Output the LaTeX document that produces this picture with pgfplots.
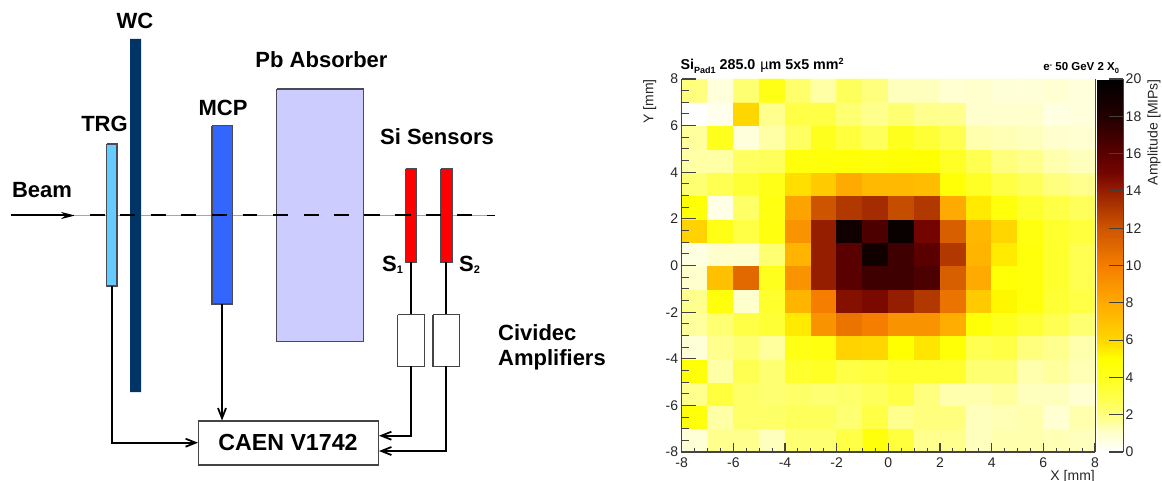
\documentclass[border=0pt]{standalone}
\usepackage{pgfplots}
\pgfplotsset{compat=1.18}
\usepackage{fontspec}
\setmainfont{Liberation Sans}
\usetikzlibrary{arrows.meta}
\definecolor{axgray}{HTML}{444444}
\definecolor{edge}{HTML}{4A4A55}
\newcommand{\lab}[1]{\fontsize{22}{24}\selectfont\bfseries #1}
\begin{document}
\begin{tikzpicture}[x=1pt,y=1pt]
\useasboundingbox (0,0) rectangle (1162,481);
\begin{axis}[at={(0pt,0pt)},anchor=south west,scale only axis,width=1162pt,height=481pt,
  xmin=0,xmax=1162,ymin=0,ymax=481,y dir=reverse,axis lines=none,clip=false,
  every axis plot/.append style={mark=none,line cap=butt,line join=miter}]
% beam
\addplot[line width=0.7pt,color=black!35] coordinates {(75,215)(490,215)};
\addplot[line width=2pt,-{Stealth[length=14pt,width=7pt]}] coordinates {(11,215.5)(75,215.5)};
% boxes
\addplot[fill={rgb,255:red,102;green,204;blue,255},draw=edge,line width=1.2pt] coordinates {(106.7,144)(117,144)(117,286)(106.7,286)(106.7,144)};
\addplot[fill={rgb,255:red,0;green,51;blue,102},draw=none] coordinates {(130,39)(141,39)(141,392)(130,392)(130,39)};
\addplot[fill={rgb,255:red,51;green,102;blue,255},draw=edge,line width=1.2pt] coordinates {(212,125.7)(232.7,125.7)(232.7,304)(212,304)(212,125.7)};
\addplot[fill={rgb,255:red,204;green,204;blue,255},draw=edge,line width=1.2pt] coordinates {(276.7,89)(363.3,89)(363.3,341.7)(276.7,341.7)(276.7,89)};
\addplot[fill=red,draw=edge,line width=1.2pt] coordinates {(405.7,169)(416.7,169)(416.7,262.3)(405.7,262.3)(405.7,169)};
\addplot[fill=red,draw=edge,line width=1.2pt] coordinates {(441,169)(452,169)(452,262.3)(441,262.3)(441,169)};
% dashes
\addplot[line width=1.1pt,black] coordinates {(90,215)(105,215)};
\addplot[line width=1.1pt,black] coordinates {(120,215)(135,215)};
\addplot[line width=1.1pt,black] coordinates {(150.5,215)(165.5,215)};
\addplot[line width=1.1pt,black] coordinates {(181,215)(196,215)};
\addplot[line width=1.1pt,black] coordinates {(212,215)(227,215)};
\addplot[line width=1.1pt,black] coordinates {(242.5,215)(257,215)};
\addplot[line width=1.1pt,black] coordinates {(273,215)(288,215)};
\addplot[line width=1.1pt,black] coordinates {(304,215)(319,215)};
\addplot[line width=1.1pt,black] coordinates {(334,215)(349,215)};
\addplot[line width=1.1pt,black] coordinates {(364,215)(380,215)};
\addplot[line width=1.1pt,black] coordinates {(395,215)(411,215)};
\addplot[line width=1.1pt,black] coordinates {(426,215)(441,215)};
\addplot[line width=1.1pt,black] coordinates {(457,215)(472,215)};
\addplot[line width=1.8pt,black] coordinates {(487,215.5)(495,215.5)};
% amps and CAEN
\addplot[fill=white,draw=axgray,line width=1.2pt] coordinates {(397.7,314.7)(424.3,314.7)(424.3,366.3)(397.7,366.3)(397.7,314.7)};
\addplot[fill=white,draw=axgray,line width=1.2pt] coordinates {(433,314.7)(459.7,314.7)(459.7,366.3)(433,366.3)(433,314.7)};
\addplot[fill=white,draw=axgray,line width=1.1pt] coordinates {(198.3,421)(378.3,421)(378.3,465)(198.3,465)(198.3,421)};
% wires
\addplot[line width=1.8pt] coordinates {(411,262.3)(411,314)};
\addplot[line width=1.8pt] coordinates {(446,262.3)(446,314)};
\addplot[line width=1.8pt,-{Straight Barb[length=10pt,width=8pt]}] coordinates {(411,366.3)(411,435.7)(379,435.7)};
\addplot[line width=1.8pt,-{Straight Barb[length=10pt,width=8pt]}] coordinates {(446,366.3)(446,451)(379,451)};
\addplot[line width=1.8pt,-{Straight Barb[length=10pt,width=8pt]}] coordinates {(222,304)(222,420.5)};
\addplot[line width=1.8pt,-{Straight Barb[length=10pt,width=8pt]}] coordinates {(112,286)(112,442.7)(198,442.7)};
% labels
\node at (axis cs:135,21) {\lab{WC}};
\node at (axis cs:104.5,124) {\lab{TRG}};
\node at (axis cs:223,108) {\lab{MCP}};
\node at (axis cs:321.5,60) {\lab{Pb Absorber}};
\node at (axis cs:437,137) {\lab{Si Sensors}};
\node at (axis cs:42,190) {\lab{Beam}};
\node[inner sep=0pt,anchor=west] at (axis cs:382,265) {\lab{S}{\fontsize{11}{12}\selectfont\bfseries\raisebox{-2pt}{1}}};
\node[inner sep=0pt,anchor=west] at (axis cs:459,265) {\lab{S}{\fontsize{11}{12}\selectfont\bfseries\raisebox{-2pt}{2}}};
\node[inner sep=0pt,anchor=west] at (axis cs:498,333) {\lab{Cividec}};
\node[inner sep=0pt,anchor=west] at (axis cs:498,360) {\lab{Amplifiers}};
\node at (axis cs:288,443) {\fontsize{23.2}{25}\selectfont\bfseries CAEN V1742};
\end{axis}
\begin{axis}[at={(681.7pt,29pt)},anchor=south west,scale only axis,width=413.3pt,height=373pt,
  xmin=-8,xmax=8,ymin=-8,ymax=8,clip=false,
  axis lines=left,axis line style={-,draw=none},
  xtick={-8,-6,...,8},ytick={-8,-6,...,8},
  tick align=inside,major tick length=0pt,
  xtick style={draw=none},ytick style={draw=none},
  tick label style={font=\fontsize{14}{16}\selectfont,text=black!85},
  xticklabel style={yshift=-2.5pt},
  /pgf/number format/assume math mode=true,
  enlargelimits=false,
  point meta min=0,point meta max=20,
  colormap={rootHot}{rgb255(0pt)=(255,255,255); rgb255(10pt)=(255,255,205); rgb255(20pt)=(255,255,125); rgb255(30pt)=(255,255,70); rgb255(40pt)=(255,255,30); rgb255(50pt)=(255,255,0); rgb255(60pt)=(255,214,0); rgb255(80pt)=(255,170,0); rgb255(100pt)=(245,125,0); rgb255(120pt)=(205,85,0); rgb255(140pt)=(150,30,0); rgb255(150pt)=(115,5,0); rgb255(160pt)=(90,0,0); rgb255(180pt)=(35,0,0); rgb255(200pt)=(0,0,0)},
  colorbar,
  colorbar/width=25.5pt,
  colorbar style={at={(1.0065,1)},anchor=north west,height=373pt,
    ytick={0,2,...,20},ytick pos=right,yticklabel pos=right,
    major tick length=0pt,
    axis line style={draw=none},
    yticklabel style={font=\fontsize{14}{16}\selectfont,text=black!85,xshift=-1pt},
    /pgf/number format/assume math mode=true,
    ylabel={},
  },
]
\addplot[matrix plot*,mesh/cols=16,mesh/ordering=x varies,point meta=explicit,shader=flat corner]
 table[row sep=\\,x index=0,y index=1,meta index=2,header=false] {
-7.5 -7.5 0.8\\ -6.5 -7.5 1.8\\ -5.5 -7.5 1.8\\ -4.5 -7.5 1.2\\ -3.5 -7.5 2.2\\ -2.5 -7.5 2.2\\ -1.5 -7.5 3.0\\ -0.5 -7.5 4.6\\ 0.5 -7.5 3.2\\ 1.5 -7.5 1.8\\ 2.5 -7.5 1.8\\ 3.5 -7.5 1.2\\ 4.5 -7.5 1.4\\ 5.5 -7.5 1.4\\ 6.5 -7.5 1.3\\ 7.5 -7.5 1.2\\
-7.5 -6.5 4.6\\ -6.5 -6.5 1.5\\ -5.5 -6.5 2.4\\ -4.5 -6.5 2.4\\ -3.5 -6.5 2.6\\ -2.5 -6.5 2.6\\ -1.5 -6.5 2.2\\ -0.5 -6.5 3.0\\ 0.5 -6.5 1.8\\ 1.5 -6.5 2.0\\ 2.5 -6.5 2.0\\ 3.5 -6.5 1.2\\ 4.5 -6.5 1.3\\ 5.5 -6.5 1.4\\ 6.5 -6.5 0.9\\ 7.5 -6.5 1.4\\
-7.5 -5.5 1.8\\ -6.5 -5.5 3.2\\ -5.5 -5.5 2.4\\ -4.5 -5.5 2.2\\ -3.5 -5.5 2.4\\ -2.5 -5.5 2.2\\ -1.5 -5.5 2.3\\ -0.5 -5.5 2.6\\ 0.5 -5.5 3.0\\ 1.5 -5.5 2.0\\ 2.5 -5.5 1.4\\ 3.5 -5.5 1.4\\ 4.5 -5.5 1.6\\ 5.5 -5.5 1.2\\ 6.5 -5.5 1.2\\ 7.5 -5.5 0.9\\
-7.5 -4.5 4.8\\ -6.5 -4.5 1.5\\ -5.5 -4.5 2.8\\ -4.5 -4.5 2.2\\ -3.5 -4.5 3.6\\ -2.5 -4.5 3.8\\ -1.5 -4.5 3.0\\ -0.5 -4.5 3.2\\ 0.5 -4.5 3.6\\ 1.5 -4.5 3.6\\ 2.5 -4.5 3.6\\ 3.5 -4.5 2.2\\ 4.5 -4.5 2.2\\ 5.5 -4.5 1.4\\ 6.5 -4.5 1.6\\ 7.5 -4.5 1.3\\
-7.5 -3.5 0.8\\ -6.5 -3.5 1.8\\ -5.5 -3.5 2.2\\ -4.5 -3.5 1.6\\ -3.5 -3.5 4.3\\ -2.5 -3.5 4.5\\ -1.5 -3.5 6.2\\ -0.5 -3.5 6.0\\ 0.5 -3.5 5.0\\ 1.5 -3.5 5.6\\ 2.5 -3.5 4.8\\ 3.5 -3.5 2.8\\ 4.5 -3.5 3.0\\ 5.5 -3.5 2.0\\ 6.5 -3.5 1.8\\ 7.5 -3.5 1.4\\
-7.5 -2.5 1.6\\ -6.5 -2.5 2.2\\ -5.5 -2.5 3.0\\ -4.5 -2.5 3.4\\ -3.5 -2.5 5.5\\ -2.5 -2.5 9.0\\ -1.5 -2.5 10.5\\ -0.5 -2.5 10.0\\ 0.5 -2.5 9.0\\ 1.5 -2.5 9.0\\ 2.5 -2.5 7.8\\ 3.5 -2.5 4.8\\ 4.5 -2.5 4.0\\ 5.5 -2.5 3.4\\ 6.5 -2.5 2.8\\ 7.5 -2.5 2.2\\
-7.5 -1.5 1.8\\ -6.5 -1.5 4.6\\ -5.5 -1.5 1.0\\ -4.5 -1.5 3.6\\ -3.5 -1.5 7.5\\ -2.5 -1.5 10.0\\ -1.5 -1.5 14.5\\ -0.5 -1.5 14.8\\ 0.5 -1.5 14.0\\ 1.5 -1.5 13.0\\ 2.5 -1.5 10.5\\ 3.5 -1.5 6.5\\ 4.5 -1.5 5.2\\ 5.5 -1.5 4.6\\ 6.5 -1.5 3.4\\ 7.5 -1.5 3.0\\
-7.5 -0.5 1.0\\ -6.5 -0.5 7.0\\ -5.5 -0.5 11.0\\ -4.5 -0.5 4.0\\ -3.5 -0.5 9.0\\ -2.5 -0.5 14.0\\ -1.5 -0.5 16.0\\ -0.5 -0.5 17.0\\ 0.5 -0.5 17.0\\ 1.5 -0.5 16.5\\ 2.5 -0.5 11.5\\ 3.5 -0.5 8.0\\ 4.5 -0.5 4.8\\ 5.5 -0.5 4.6\\ 6.5 -0.5 3.6\\ 7.5 -0.5 2.8\\
-7.5 0.5 0.6\\ -6.5 0.5 1.0\\ -5.5 0.5 1.0\\ -4.5 0.5 2.2\\ -3.5 0.5 7.5\\ -2.5 0.5 14.0\\ -1.5 0.5 16.0\\ -0.5 0.5 19.0\\ 0.5 0.5 17.0\\ 1.5 0.5 16.0\\ 2.5 0.5 13.0\\ 3.5 0.5 7.5\\ 4.5 0.5 5.5\\ 5.5 0.5 4.6\\ 6.5 0.5 3.6\\ 7.5 0.5 2.8\\
-7.5 1.5 6.2\\ -6.5 1.5 4.3\\ -5.5 1.5 3.0\\ -4.5 1.5 4.5\\ -3.5 1.5 9.0\\ -2.5 1.5 14.0\\ -1.5 1.5 19.0\\ -0.5 1.5 16.5\\ 0.5 1.5 19.5\\ 1.5 1.5 15.0\\ 2.5 1.5 11.5\\ 3.5 1.5 7.4\\ 4.5 1.5 6.0\\ 5.5 1.5 4.5\\ 6.5 1.5 3.6\\ 7.5 1.5 3.2\\
-7.5 2.5 4.8\\ -6.5 2.5 0.5\\ -5.5 2.5 2.4\\ -4.5 2.5 4.4\\ -3.5 2.5 8.3\\ -2.5 2.5 12.0\\ -1.5 2.5 13.0\\ -0.5 2.5 13.5\\ 0.5 2.5 12.3\\ 1.5 2.5 13.0\\ 2.5 2.5 8.0\\ 3.5 2.5 5.5\\ 4.5 2.5 4.6\\ 5.5 2.5 3.6\\ 6.5 2.5 3.0\\ 7.5 2.5 2.6\\
-7.5 3.5 2.2\\ -6.5 3.5 2.8\\ -5.5 3.5 3.4\\ -4.5 3.5 4.2\\ -3.5 3.5 5.8\\ -2.5 3.5 6.5\\ -1.5 3.5 8.0\\ -0.5 3.5 7.3\\ 0.5 3.5 7.3\\ 1.5 3.5 7.2\\ 2.5 3.5 4.8\\ 3.5 3.5 3.8\\ 4.5 3.5 3.0\\ 5.5 3.5 2.6\\ 6.5 3.5 2.0\\ 7.5 3.5 1.8\\
-7.5 4.5 1.5\\ -6.5 4.5 1.5\\ -5.5 4.5 2.5\\ -4.5 4.5 2.6\\ -3.5 4.5 4.6\\ -2.5 4.5 4.6\\ -1.5 4.5 4.8\\ -0.5 4.5 4.6\\ 0.5 4.5 4.9\\ 1.5 4.5 5.0\\ 2.5 4.5 3.8\\ 3.5 4.5 2.8\\ 4.5 4.5 2.0\\ 5.5 4.5 1.8\\ 6.5 4.5 1.4\\ 7.5 4.5 1.2\\
-7.5 5.5 1.6\\ -6.5 5.5 4.0\\ -5.5 5.5 0.7\\ -4.5 5.5 1.5\\ -3.5 5.5 2.5\\ -2.5 5.5 4.0\\ -1.5 5.5 3.2\\ -0.5 5.5 2.6\\ 0.5 5.5 4.0\\ 1.5 5.5 3.4\\ 2.5 5.5 2.8\\ 3.5 5.5 1.4\\ 4.5 5.5 1.3\\ 5.5 5.5 1.2\\ 6.5 5.5 1.0\\ 7.5 5.5 0.9\\
-7.5 6.5 0.0\\ -6.5 6.5 0.4\\ -5.5 6.5 6.0\\ -4.5 6.5 1.8\\ -3.5 6.5 3.0\\ -2.5 6.5 3.0\\ -1.5 6.5 2.2\\ -0.5 6.5 1.8\\ 0.5 6.5 2.2\\ 1.5 6.5 1.8\\ 2.5 6.5 1.8\\ 3.5 6.5 1.0\\ 4.5 6.5 1.0\\ 5.5 6.5 1.0\\ 6.5 6.5 0.6\\ 7.5 6.5 0.7\\
-7.5 7.5 2.0\\ -6.5 7.5 0.7\\ -5.5 7.5 2.2\\ -4.5 7.5 4.3\\ -3.5 7.5 2.3\\ -2.5 7.5 1.5\\ -1.5 7.5 2.6\\ -0.5 7.5 2.0\\ 0.5 7.5 1.2\\ 1.5 7.5 1.2\\ 2.5 7.5 0.9\\ 3.5 7.5 1.0\\ 4.5 7.5 0.8\\ 5.5 7.5 0.8\\ 6.5 7.5 0.9\\ 7.5 7.5 0.7\\
};
\node[anchor=base west,inner sep=0pt,font=\fontsize{14.3}{16}\selectfont\bfseries] at (rel axis cs:-0.003,1.0245) {Si\raisebox{-3.5pt}{\fontsize{9}{10}\selectfont\bfseries Pad1} 285.0\hspace{5pt}{\mdseries µ}m 5x5 mm\raisebox{5pt}{\fontsize{9}{10}\selectfont\bfseries 2}};
\node[anchor=base east,inner sep=0pt,font=\fontsize{11.5}{13}\selectfont\bfseries] at (rel axis cs:1.0585,1.0215) {e\raisebox{3.5pt}{\fontsize{7.5}{8}\selectfont\bfseries -} 50 GeV 2 X\raisebox{-2.5pt}{\fontsize{7.5}{8}\selectfont\bfseries 0}};
\node[anchor=north east,inner sep=0pt,font=\fontsize{14}{16}\selectfont,text=black!85] at (axis cs:8,-8.76) {X [mm]};
\node[anchor=south east,rotate=90,inner sep=0pt,font=\fontsize{14}{16}\selectfont,text=black!85] at (rel axis cs:-0.061,1) {Y [mm]};
\node[anchor=north east,rotate=90,inner sep=0pt,font=\fontsize{14}{16}\selectfont,text=black!85] at (rel axis cs:1.1265,1) {Amplitude [MIPs]};
\end{axis}
% frame and tick marks of the heatmap and colour bar, as plots on the same scale
\begin{axis}[at={(681.7pt,29pt)},anchor=south west,scale only axis,width=413.3pt,height=373pt,
  xmin=-8,xmax=8,ymin=-8,ymax=8,hide axis,clip=false,unbounded coords=jump,
  every axis plot/.append style={mark=none,line cap=butt}]
\addplot[axgray,line width=0.7pt] coordinates {(8,-8)(8,8)};
\addplot[axgray,line width=1.2pt] coordinates {(-8,8)(-8,-8)(8,-8)};
\addplot[axgray,line width=1.1pt] coordinates {
(-8,-8)(-8,-7.63)(nan,nan)(-6,-8)(-6,-7.63)(nan,nan)(-4,-8)(-4,-7.63)(nan,nan)(-2,-8)(-2,-7.63)(nan,nan)(0,-8)(0,-7.63)(nan,nan)(2,-8)(2,-7.63)(nan,nan)(4,-8)(4,-7.63)(nan,nan)(6,-8)(6,-7.63)(nan,nan)(8,-8)(8,-7.63)};
\addplot[axgray,line width=1pt] coordinates {
(-7.5,-8)(-7.5,-7.83)(nan,nan)(-7,-8)(-7,-7.83)(nan,nan)(-6.5,-8)(-6.5,-7.83)(nan,nan)(-5.5,-8)(-5.5,-7.83)(nan,nan)(-5,-8)(-5,-7.83)(nan,nan)(-4.5,-8)(-4.5,-7.83)(nan,nan)(-3.5,-8)(-3.5,-7.83)(nan,nan)(-3,-8)(-3,-7.83)(nan,nan)(-2.5,-8)(-2.5,-7.83)(nan,nan)(-1.5,-8)(-1.5,-7.83)(nan,nan)(-1,-8)(-1,-7.83)(nan,nan)(-0.5,-8)(-0.5,-7.83)(nan,nan)(0.5,-8)(0.5,-7.83)(nan,nan)(1,-8)(1,-7.83)(nan,nan)(1.5,-8)(1.5,-7.83)(nan,nan)(2.5,-8)(2.5,-7.83)(nan,nan)(3,-8)(3,-7.83)(nan,nan)(3.5,-8)(3.5,-7.83)(nan,nan)(4.5,-8)(4.5,-7.83)(nan,nan)(5,-8)(5,-7.83)(nan,nan)(5.5,-8)(5.5,-7.83)(nan,nan)(6.5,-8)(6.5,-7.83)(nan,nan)(7,-8)(7,-7.83)(nan,nan)(7.5,-8)(7.5,-7.83)};
\addplot[axgray,line width=1.1pt] coordinates {
(-8,-8)(-7.46,-8)(nan,nan)(-8,-6)(-7.46,-6)(nan,nan)(-8,-4)(-7.46,-4)(nan,nan)(-8,-2)(-7.46,-2)(nan,nan)(-8,0)(-7.46,0)(nan,nan)(-8,2)(-7.46,2)(nan,nan)(-8,4)(-7.46,4)(nan,nan)(-8,6)(-7.46,6)(nan,nan)(-8,8)(-7.46,8)};
\addplot[axgray,line width=1pt] coordinates {
(-8,-7.5)(-7.73,-7.5)(nan,nan)(-8,-7)(-7.73,-7)(nan,nan)(-8,-6.5)(-7.73,-6.5)(nan,nan)(-8,-5.5)(-7.73,-5.5)(nan,nan)(-8,-5)(-7.73,-5)(nan,nan)(-8,-4.5)(-7.73,-4.5)(nan,nan)(-8,-3.5)(-7.73,-3.5)(nan,nan)(-8,-3)(-7.73,-3)(nan,nan)(-8,-2.5)(-7.73,-2.5)(nan,nan)(-8,-1.5)(-7.73,-1.5)(nan,nan)(-8,-1)(-7.73,-1)(nan,nan)(-8,-0.5)(-7.73,-0.5)(nan,nan)(-8,0.5)(-7.73,0.5)(nan,nan)(-8,1)(-7.73,1)(nan,nan)(-8,1.5)(-7.73,1.5)(nan,nan)(-8,2.5)(-7.73,2.5)(nan,nan)(-8,3)(-7.73,3)(nan,nan)(-8,3.5)(-7.73,3.5)(nan,nan)(-8,4.5)(-7.73,4.5)(nan,nan)(-8,5)(-7.73,5)(nan,nan)(-8,5.5)(-7.73,5.5)(nan,nan)(-8,6.5)(-7.73,6.5)(nan,nan)(-8,7)(-7.73,7)(nan,nan)(-8,7.5)(-7.73,7.5)};
% colour bar right edge and ticks (x 8.105..9.092 is the bar)
\addplot[axgray,line width=0.7pt] coordinates {(9.092,-8)(9.092,8)};
\addplot[black!75,line width=1.1pt] coordinates {
(8.55,-8)(9.092,-8)(nan,nan)(8.55,-6.4)(9.092,-6.4)(nan,nan)(8.55,-4.8)(9.092,-4.8)(nan,nan)(8.55,-3.2)(9.092,-3.2)(nan,nan)(8.55,-1.6)(9.092,-1.6)(nan,nan)(8.55,0)(9.092,0)(nan,nan)(8.55,1.6)(9.092,1.6)(nan,nan)(8.55,3.2)(9.092,3.2)(nan,nan)(8.55,4.8)(9.092,4.8)(nan,nan)(8.55,6.4)(9.092,6.4)(nan,nan)(8.55,8)(9.092,8)};
\end{axis}
\end{tikzpicture}
\end{document}
